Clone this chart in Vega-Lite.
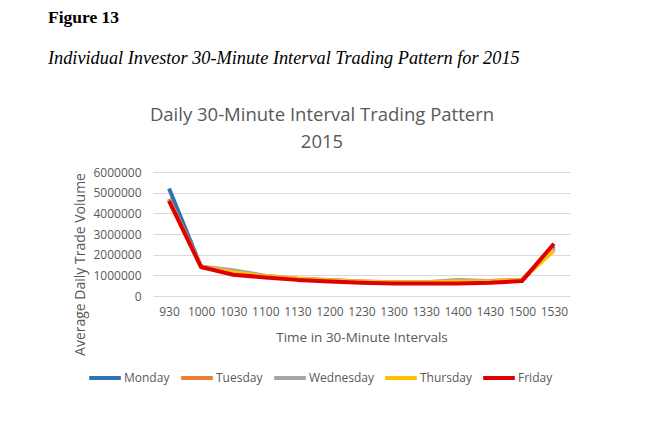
{
  "$schema": "https://vega.github.io/schema/vega-lite/v6.json",
  "background": "white",
  "padding": {"left": 47, "top": 8, "right": 10, "bottom": 5},
  "title": {
    "text": "Figure 13",
    "subtitle": "Individual Investor 30-Minute Interval Trading Pattern for 2015",
    "anchor": "start",
    "dx": -26,
    "font": "Liberation Serif",
    "fontSize": 17.5,
    "fontWeight": "bold",
    "color": "black",
    "subtitleFont": "Liberation Serif",
    "subtitleFontSize": 18.3,
    "subtitleFontStyle": "italic",
    "subtitleColor": "black",
    "subtitlePadding": 24,
    "offset": 38
  },
  "config": {
    "view": {"stroke": null},
    "font": "Open Sans"
  },
  "vconcat": [
    {
      "title": {
        "text": ["Daily 30-Minute Interval Trading Pattern", "2015"],
        "font": "Open Sans",
        "fontSize": 18.5,
        "fontWeight": "normal",
        "color": "#595959",
        "anchor": "middle",
        "frame": "bounds",
        "lineHeight": 27,
        "offset": 15
      },
      "width": 417,
      "height": 124,
      "data": {
        "values": [
          {"time": 930, "day": "Monday", "volume": 5200000},
          {"time": 1000, "day": "Monday", "volume": 1400000},
          {"time": 1030, "day": "Monday", "volume": 1150000},
          {"time": 1100, "day": "Monday", "volume": 950000},
          {"time": 1130, "day": "Monday", "volume": 820000},
          {"time": 1200, "day": "Monday", "volume": 740000},
          {"time": 1230, "day": "Monday", "volume": 680000},
          {"time": 1300, "day": "Monday", "volume": 640000},
          {"time": 1330, "day": "Monday", "volume": 640000},
          {"time": 1400, "day": "Monday", "volume": 650000},
          {"time": 1430, "day": "Monday", "volume": 680000},
          {"time": 1500, "day": "Monday", "volume": 750000},
          {"time": 1530, "day": "Monday", "volume": 2400000},
          {"time": 930, "day": "Tuesday", "volume": 4700000},
          {"time": 1000, "day": "Tuesday", "volume": 1420000},
          {"time": 1030, "day": "Tuesday", "volume": 1180000},
          {"time": 1100, "day": "Tuesday", "volume": 960000},
          {"time": 1130, "day": "Tuesday", "volume": 840000},
          {"time": 1200, "day": "Tuesday", "volume": 760000},
          {"time": 1230, "day": "Tuesday", "volume": 700000},
          {"time": 1300, "day": "Tuesday", "volume": 660000},
          {"time": 1330, "day": "Tuesday", "volume": 660000},
          {"time": 1400, "day": "Tuesday", "volume": 700000},
          {"time": 1430, "day": "Tuesday", "volume": 720000},
          {"time": 1500, "day": "Tuesday", "volume": 780000},
          {"time": 1530, "day": "Tuesday", "volume": 2300000},
          {"time": 930, "day": "Wednesday", "volume": 4650000},
          {"time": 1000, "day": "Wednesday", "volume": 1430000},
          {"time": 1030, "day": "Wednesday", "volume": 1250000},
          {"time": 1100, "day": "Wednesday", "volume": 980000},
          {"time": 1130, "day": "Wednesday", "volume": 850000},
          {"time": 1200, "day": "Wednesday", "volume": 780000},
          {"time": 1230, "day": "Wednesday", "volume": 700000},
          {"time": 1300, "day": "Wednesday", "volume": 650000},
          {"time": 1330, "day": "Wednesday", "volume": 660000},
          {"time": 1400, "day": "Wednesday", "volume": 780000},
          {"time": 1430, "day": "Wednesday", "volume": 730000},
          {"time": 1500, "day": "Wednesday", "volume": 770000},
          {"time": 1530, "day": "Wednesday", "volume": 2300000},
          {"time": 930, "day": "Thursday", "volume": 4600000},
          {"time": 1000, "day": "Thursday", "volume": 1400000},
          {"time": 1030, "day": "Thursday", "volume": 1150000},
          {"time": 1100, "day": "Thursday", "volume": 950000},
          {"time": 1130, "day": "Thursday", "volume": 830000},
          {"time": 1200, "day": "Thursday", "volume": 750000},
          {"time": 1230, "day": "Thursday", "volume": 690000},
          {"time": 1300, "day": "Thursday", "volume": 650000},
          {"time": 1330, "day": "Thursday", "volume": 650000},
          {"time": 1400, "day": "Thursday", "volume": 700000},
          {"time": 1430, "day": "Thursday", "volume": 700000},
          {"time": 1500, "day": "Thursday", "volume": 780000},
          {"time": 1530, "day": "Thursday", "volume": 2200000},
          {"time": 930, "day": "Friday", "volume": 4600000},
          {"time": 1000, "day": "Friday", "volume": 1400000},
          {"time": 1030, "day": "Friday", "volume": 1030000},
          {"time": 1100, "day": "Friday", "volume": 900000},
          {"time": 1130, "day": "Friday", "volume": 780000},
          {"time": 1200, "day": "Friday", "volume": 700000},
          {"time": 1230, "day": "Friday", "volume": 640000},
          {"time": 1300, "day": "Friday", "volume": 610000},
          {"time": 1330, "day": "Friday", "volume": 610000},
          {"time": 1400, "day": "Friday", "volume": 600000},
          {"time": 1430, "day": "Friday", "volume": 640000},
          {"time": 1500, "day": "Friday", "volume": 720000},
          {"time": 1530, "day": "Friday", "volume": 2530000}
        ]
      },
      "mark": {"type": "line", "strokeWidth": 4, "strokeJoin": "round"},
      "encoding": {
        "x": {
          "field": "time",
          "type": "ordinal",
          "scale": {"type": "point", "padding": 0.5},
          "axis": {
            "title": "Time in 30-Minute Intervals",
            "labelAngle": 0,
            "ticks": false,
            "domain": false,
            "labelPadding": 10,
            "labelFont": "Open Sans",
            "labelFontSize": 12,
            "labelColor": "#595959",
            "titleFont": "Open Sans",
            "titleFontSize": 13.5,
            "titleFontWeight": "normal",
            "titleColor": "#595959",
            "titlePadding": 13
          }
        },
        "y": {
          "field": "volume",
          "type": "quantitative",
          "scale": {"domain": [0, 6000000]},
          "axis": {
            "title": "Average Daily Trade Volume",
            "values": [0, 1000000, 2000000, 3000000, 4000000, 5000000, 6000000],
            "format": "d",
            "ticks": false,
            "domain": false,
            "gridColor": "#d9d9d9",
            "labelPadding": 12,
            "labelFont": "Open Sans",
            "labelFontSize": 12,
            "labelColor": "#595959",
            "titleFont": "Open Sans",
            "titleFontSize": 14,
            "titleFontWeight": "normal",
            "titleColor": "#595959",
            "titlePadding": 5,
            "titleY": 92
          }
        },
        "color": {
          "field": "day",
          "type": "nominal",
          "scale": {
            "domain": ["Monday", "Tuesday", "Wednesday", "Thursday", "Friday"],
            "range": ["#2E74B5", "#ED7D31", "#A5A5A5", "#FFC000", "#E00000"]
          },
          "legend": {
            "orient": "none",
            "legendX": -66,
            "legendY": 188,
            "direction": "horizontal",
            "title": null,
            "symbolType": "stroke",
            "symbolSize": 1000,
            "symbolStrokeWidth": 4,
            "labelFont": "Open Sans",
            "labelFontSize": 12,
            "labelColor": "#595959",
            "columnPadding": 3,
            "symbolOffset": 0,
            "labelOffset": 1
          }
        }
      }
    }
  ]
}
